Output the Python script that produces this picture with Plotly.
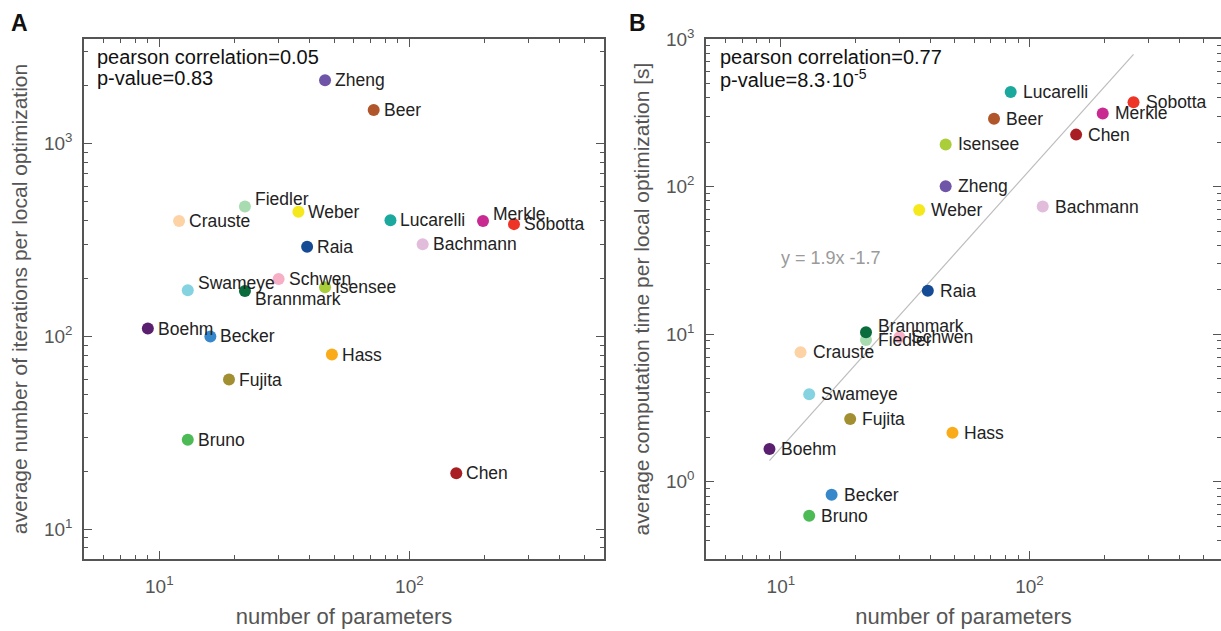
import numpy as np
import plotly.graph_objects as go

# ---------------- data ----------------
models = ["Zheng", "Beer", "Fiedler", "Weber", "Crauste", "Lucarelli", "Merkle",
          "Sobotta", "Raia", "Bachmann", "Schwen", "Swameye", "Brannmark",
          "Isensee", "Boehm", "Becker", "Hass", "Fujita", "Bruno", "Chen"]
n_params = [46, 72, 22, 36, 12, 84, 197, 262, 39, 113, 30, 13, 22, 46, 9, 16, 49, 19, 13, 154]
iterations = [2140, 1500, 473, 444, 398, 401, 398, 383, 292, 301, 199, 174, 172, 180,
              110, 100, 80.6, 59.8, 29.1, 19.5]
comp_time = [100.5, 288, 9.15, 69.4, 7.55, 437, 313, 373, 19.7, 73.2, 9.55, 3.92, 10.3,
             193, 1.67, 0.817, 2.15, 2.66, 0.59, 225]

fit_slope = 1.88
fit_intercept = -1.65
fit_label = "y = 1.9x -1.7"
stats_a = ["pearson correlation=0.05", "p-value=0.83"]
stats_b = ["pearson correlation=0.77", "p-value=8.3·10<sup>-5</sup>"]
x_title = "number of parameters"
y_title_a = "average number of iterations per local optimization"
y_title_b = "average computation time per local optimization [s]"

x_tickvals = [10, 100]
x_ticktext = ["10<sup>1</sup>", "10<sup>2</sup>"]
ya_tickvals = [10, 100, 1000]
ya_ticktext = ["10<sup>1</sup>", "10<sup>2</sup>", "10<sup>3</sup>"]
yb_tickvals = [1, 10, 100, 1000]
yb_ticktext = ["10<sup>0</sup>", "10<sup>1</sup>", "10<sup>2</sup>", "10<sup>3</sup>"]

# ---------------- styles ----------------
colors = {
    "Zheng": "#6f55a8", "Beer": "#b0562a", "Fiedler": "#a9dbb0", "Weber": "#f5e81c",
    "Crauste": "#fdd3a6", "Lucarelli": "#1ba89d", "Merkle": "#c92a91", "Sobotta": "#ee3426",
    "Raia": "#154a94", "Bachmann": "#e2bcdb", "Schwen": "#f6afc4", "Swameye": "#85d3e0",
    "Brannmark": "#0a6b3c", "Isensee": "#a9ce3a", "Boehm": "#5b1f6f", "Becker": "#3787cb",
    "Hass": "#f9ab1a", "Fujita": "#a28f32", "Bruno": "#4cba55", "Chen": "#a81e22",
}
shift_a = {"Fiedler": 7, "Merkle": 7, "Swameye": 7, "Brannmark": -8}
shift_b = {"Brannmark": 6}

W, H = 1221, 631
FONT = "Liberation Sans, Arial, Helvetica, sans-serif"
AX = "#555555"

def px(y):
    return 1 - y / H

fig = go.Figure()
mcol = [colors[m] for m in models]

fig.add_trace(go.Scatter(x=n_params, y=iterations, mode="markers",
                         marker=dict(size=12, color=mcol, line=dict(width=0)),
                         xaxis="x", yaxis="y", showlegend=False, hoverinfo="skip"))

xf = np.array([min(n_params), max(n_params)], dtype=float)
yf = 10 ** (fit_slope * np.log10(xf) + fit_intercept)
fig.add_trace(go.Scatter(x=xf, y=yf, mode="lines", line=dict(color="#bdbdbd", width=1.2),
                         xaxis="x2", yaxis="y2", showlegend=False, hoverinfo="skip"))
fig.add_trace(go.Scatter(x=n_params, y=comp_time, mode="markers",
                         marker=dict(size=12, color=mcol, line=dict(width=0)),
                         xaxis="x2", yaxis="y2", showlegend=False, hoverinfo="skip"))

ann = []
for m, xv, yv in zip(models, n_params, iterations):
    ann.append(dict(x=np.log10(xv), y=np.log10(yv), xref="x", yref="y", text=m,
                    showarrow=False, xanchor="left", yanchor="middle", xshift=8,
                    yshift=shift_a.get(m, 0), font=dict(family=FONT, size=17.5, color="#222222")))
for m, xv, yv in zip(models, n_params, comp_time):
    ann.append(dict(x=np.log10(xv), y=np.log10(yv), xref="x2", yref="y2", text=m,
                    showarrow=False, xanchor="left", yanchor="middle", xshift=10,
                    yshift=shift_b.get(m, 0), font=dict(family=FONT, size=17.5, color="#222222")))

ann.append(dict(x=0.9925, y=1.514, xref="x2", yref="y2", text=fit_label, showarrow=False,
                xanchor="left", yanchor="middle", font=dict(family=FONT, size=18, color="#9a9a9a")))

for i, t in enumerate(stats_a):
    ann.append(dict(x=95 / W, y=px(57 + 21 * i), xref="paper", yref="paper", text=t,
                    showarrow=False, xanchor="left", yanchor="middle",
                    font=dict(family=FONT, size=20, color="#111111")))
for i, t in enumerate(stats_b):
    ann.append(dict(x=718 / W, y=px(57 + 21 * i), xref="paper", yref="paper", text=t,
                    showarrow=False, xanchor="left", yanchor="middle",
                    font=dict(family=FONT, size=20, color="#111111")))

ann.append(dict(x=9 / W, y=px(23), xref="paper", yref="paper", text="<b>A</b>", showarrow=False,
                xanchor="left", yanchor="middle", font=dict(family=FONT, size=23, color="#111111")))
ann.append(dict(x=627 / W, y=px(23), xref="paper", yref="paper", text="<b>B</b>", showarrow=False,
                xanchor="left", yanchor="middle", font=dict(family=FONT, size=23, color="#111111")))

def axis(domain, rng, title, anchor, standoff, tv, tt, lab_off, tsize):
    return dict(type="log", domain=domain, range=rng, anchor=anchor,
                showline=True, linecolor=AX, linewidth=1.5, mirror="allticks",
                ticks="inside", ticklen=8, tickwidth=1.2, tickcolor=AX,
                tickmode="array", tickvals=tv, ticktext=tt, ticklabelstandoff=lab_off,
                showgrid=False, zeroline=False,
                tickfont=dict(family=FONT, size=19, color=AX),
                minor=dict(ticks="inside", ticklen=4, tickwidth=1.2, tickcolor=AX,
                           dtick="D1", showgrid=False),
                title=dict(text=title, font=dict(family=FONT, size=tsize, color=AX),
                           standoff=standoff),
                automargin=False)

ydom = [px(559), px(39)]
fig.update_layout(
    width=W, height=H, margin=dict(l=0, r=0, t=0, b=0),
    paper_bgcolor="white", plot_bgcolor="white",
    xaxis=axis([84 / W, 604 / W], [np.log10(5), np.log10(600)], x_title, "y", 13,
               x_tickvals, x_ticktext, 9, 22),
    yaxis=axis(ydom, [np.log10(7), np.log10(3500)], y_title_a, "x", 11,
               ya_tickvals, ya_ticktext, 6, 21),
    xaxis2=axis([706 / W, 1.0], [np.log10(5), np.log10(589)], x_title, "y2", 13,
                x_tickvals, x_ticktext, 9, 22),
    yaxis2=axis(ydom, [np.log10(0.3), 3], y_title_b, "x2", 11,
                yb_tickvals, yb_ticktext, 6, 21),
    annotations=ann,
)

fig.write_html("out.html", config={"displayModeBar": False},
               post_script="document.body.style.margin='0px';document.body.style.overflow='hidden';")
